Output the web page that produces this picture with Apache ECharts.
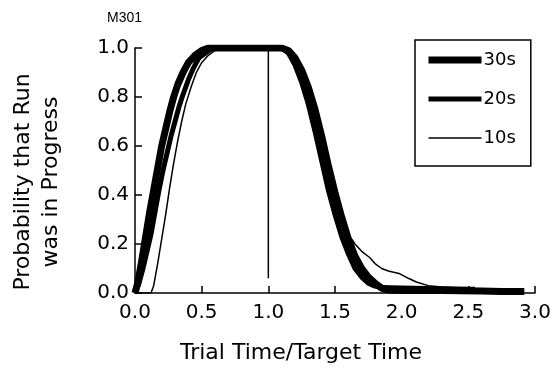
<!DOCTYPE html>
<html>
<head>
<meta charset="utf-8">
<script src="https://cdn.jsdelivr.net/npm/echarts@6/dist/echarts.min.js"></script>
<style>
  html, body { margin: 0; padding: 0; background: #fff; }
  #chart { width: 555px; height: 368px; }
</style>
</head>
<body>
<div id="chart"></div>
<script>
// Proportion of trials with a run in progress, against trial time / target time
const seriesNames = ['30s', '20s', '10s'];

const run30s = [
  [0, 0], [0.02, 0.04], [0.05, 0.13], [0.08, 0.23], [0.11, 0.33], [0.14, 0.42],
  [0.17, 0.51], [0.2, 0.6], [0.23, 0.67], [0.26, 0.74], [0.29, 0.8], [0.32, 0.85],
  [0.36, 0.9], [0.4, 0.94], [0.45, 0.97], [0.5, 0.99], [0.55, 1.0], [1.1, 1.0],
  [1.15, 0.99], [1.2, 0.96], [1.25, 0.91], [1.3, 0.84], [1.35, 0.75], [1.4, 0.64],
  [1.45, 0.52], [1.5, 0.41], [1.55, 0.31], [1.6, 0.22], [1.65, 0.15], [1.7, 0.1],
  [1.75, 0.065], [1.8, 0.04], [1.85, 0.02], [1.9, 0.012], [2.0, 0.01], [2.3, 0.01],
  [2.6, 0.008], [2.75, 0.006], [2.92, 0.006]
];

const run20s = [
  [0, 0], [0.03, 0.04], [0.06, 0.1], [0.09, 0.17], [0.12, 0.24], [0.15, 0.33],
  [0.18, 0.42], [0.21, 0.5], [0.24, 0.57], [0.27, 0.64], [0.3, 0.7], [0.33, 0.76],
  [0.36, 0.81], [0.4, 0.87], [0.44, 0.92], [0.48, 0.96], [0.53, 0.98], [0.58, 1.0],
  [1.1, 1.0], [1.15, 0.98], [1.2, 0.93], [1.25, 0.86], [1.3, 0.77], [1.35, 0.66],
  [1.4, 0.54], [1.45, 0.42], [1.5, 0.32], [1.55, 0.23], [1.6, 0.16], [1.65, 0.1],
  [1.7, 0.065], [1.75, 0.04], [1.8, 0.028], [1.85, 0.022], [2.0, 0.02], [2.2, 0.018],
  [2.4, 0.016], [2.55, 0.015]
];

const run10s = [
  [0, 0], [0.12, 0], [0.14, 0.03], [0.17, 0.12], [0.2, 0.22], [0.23, 0.32],
  [0.26, 0.43], [0.29, 0.53], [0.32, 0.62], [0.35, 0.7], [0.38, 0.77], [0.42, 0.84],
  [0.46, 0.9], [0.5, 0.94], [0.55, 0.97], [0.6, 0.99], [0.65, 1.0], [1.1, 1.0],
  [1.15, 0.98], [1.2, 0.94], [1.25, 0.88], [1.3, 0.8], [1.35, 0.7], [1.4, 0.58],
  [1.45, 0.46], [1.5, 0.36], [1.55, 0.28], [1.6, 0.24], [1.65, 0.2], [1.7, 0.17],
  [1.76, 0.145], [1.8, 0.12], [1.85, 0.1], [1.9, 0.09], [1.98, 0.08], [2.05, 0.06],
  [2.11, 0.045], [2.2, 0.03], [2.3, 0.025], [2.45, 0.02], [2.5, 0.02]
];

// reference line at trial time = target time
const targetLine = [[1.0, 0.06], [1.0, 1.0]];

const xTicks = ['0.0', '0.5', '1.0', '1.5', '2.0', '2.5', '3.0'];
const yTicks = ['0.0', '0.2', '0.4', '0.6', '0.8', '1.0'];

const lineWidths = { '30s': 7, '20s': 5, '10s': 1.5 };
const font = '"DejaVu Sans", Verdana, sans-serif';

const chart = echarts.init(document.getElementById('chart'), null, { renderer: 'canvas' });

function curve(name, data) {
  return {
    name: name,
    type: 'line',
    data: data,
    symbol: 'none',
    smooth: false,
    animation: false,
    lineStyle: { color: '#000', width: lineWidths[name], join: 'round' },
    itemStyle: { color: '#000' },
    z: 3
  };
}

chart.setOption({
  backgroundColor: '#fff',
  animation: false,
  grid: { left: 135, right: 20, top: 48, bottom: 75, containLabel: false },
  xAxis: {
    type: 'value', min: 0, max: 3, interval: 0.5,
    axisLine: { lineStyle: { color: '#000', width: 1.5 } },
    axisTick: { inside: true, length: 7, lineStyle: { color: '#000', width: 1.5 } },
    axisLabel: {
      color: '#000', fontFamily: font, fontSize: 20, margin: 10,
      formatter: (v) => xTicks[Math.round(v / 0.5)]
    },
    splitLine: { show: false }
  },
  yAxis: {
    type: 'value', min: 0, max: 1, interval: 0.2,
    axisLine: { show: true, lineStyle: { color: '#000', width: 1.5 } },
    axisTick: { show: true, inside: true, length: 7, lineStyle: { color: '#000', width: 1.5 } },
    axisLabel: {
      color: '#000', fontFamily: font, fontSize: 20, margin: 6,
      formatter: (v) => yTicks[Math.round(v / 0.2)]
    },
    splitLine: { show: false }
  },
  legend: {
    orient: 'vertical',
    left: 415, top: 40,
    padding: [11, 15, 19, 10],
    itemWidth: 53, itemHeight: 14, itemGap: 21,
    borderColor: '#000', borderWidth: 1.5,
    textStyle: { color: '#000', fontFamily: font, fontSize: 18, padding: [0, 0, 0, -3] },
    data: seriesNames.map((n) => ({
      name: n,
      lineStyle: { width: lineWidths[n], color: '#000' },
      itemStyle: { opacity: 0 }
    }))
  },
  graphic: [
    {
      type: 'text', left: 107, top: 11,
      style: { text: 'M301', fill: '#000', font: '14px "Liberation Sans", Arial, sans-serif' }
    },
    {
      type: 'text', x: 37, y: 182, rotation: Math.PI / 2,
      style: {
        text: 'Probability that Run\nwas in Progress', fill: '#000',
        font: '22px ' + font, align: 'center', verticalAlign: 'middle', lineHeight: 28
      }
    },
    {
      type: 'text', x: 301, y: 353,
      style: {
        text: 'Trial Time/Target Time', fill: '#000',
        font: '22px ' + font, align: 'center', verticalAlign: 'middle'
      }
    }
  ],
  series: [
    curve('30s', run30s),
    curve('20s', run20s),
    curve('10s', run10s),
    {
      name: 'target',
      type: 'line',
      data: targetLine,
      symbol: 'none',
      lineStyle: { color: '#000', width: 1.5 },
      z: 2
    }
  ]
});
</script>
</body>
</html>
